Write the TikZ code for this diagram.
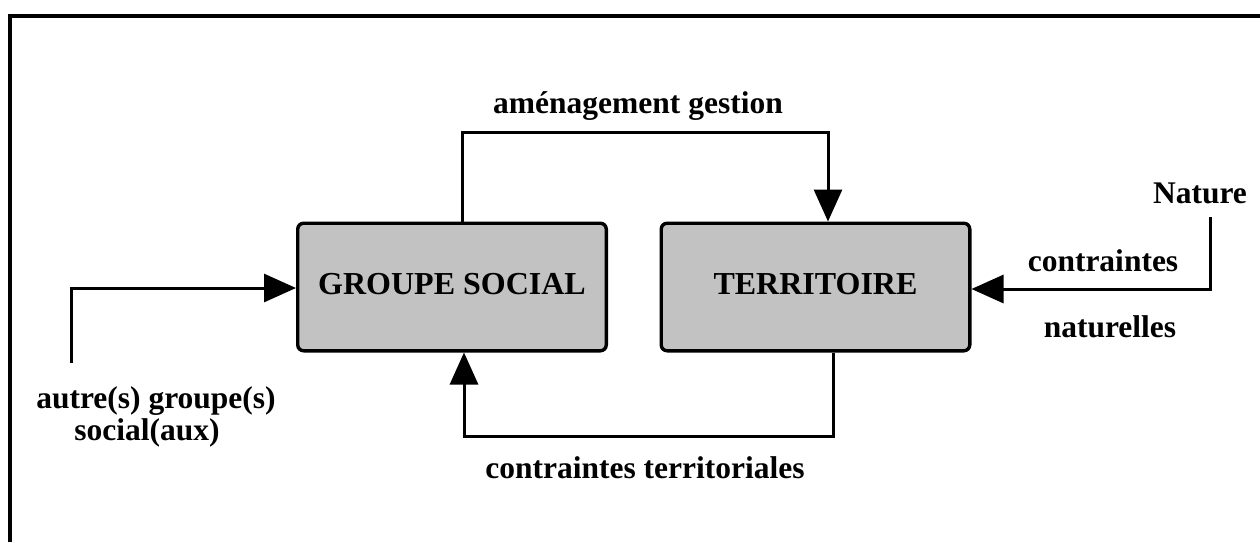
\documentclass[tikz,border=0pt]{standalone}
\usepackage{fontspec}
\setmainfont{Liberation Serif}
\usetikzlibrary{arrows.meta}
\begin{document}
\begin{tikzpicture}[x=0.5pt,y=-0.5pt,
  lbl/.style={font=\fontsize{15.75}{15}\selectfont\bfseries, inner sep=0pt, anchor=base},
  boxnode/.style={draw, line width=1.7pt, rounded corners=3pt, fill=black!24,
    minimum width=154.3pt, minimum height=63.8pt, inner sep=0pt,
    text height=10.5pt, text depth=3.5pt,
    font=\fontsize{16}{15}\selectfont\bfseries},
  conn/.style={line width=1.5pt},
  arr/.style={conn, -{Triangle[length=16pt,width=14pt]}},
  framestyle/.style={line width=2pt}]
\useasboundingbox (0,0) rectangle (1260,542);
% frame
\coordinate (fA) at (10,542);
\coordinate (fB) at (10,16);
\coordinate (fC) at (1260,16);
\draw[framestyle] (fA) -- (fB) -- (fC);
% boxes
\node[boxnode] (gs) at (452,287) {GROUPE SOCIAL};
\node[boxnode] (terr) at (815.5,287) {TERRITOIRE};
% connectors
\coordinate (agA) at (462,132);
\coordinate (agB) at (828,132);
\draw[arr] (gs.north -| agA) -- (agA) -- (agB) -- (terr.north -| agB);
\coordinate (ctA) at (833,436);
\coordinate (ctB) at (464,436);
\draw[arr] (terr.south -| ctA) -- (ctA) -- (ctB) -- (gs.south -| ctB);
\coordinate (agS) at (71,363);
\coordinate (agC) at (71,288);
\draw[arr] (agS) -- (agC) -- (gs.west |- agC);
\coordinate (natS) at (1210,217);
\coordinate (natC) at (1210,289);
\draw[arr] (natS) -- (natC) -- (terr.east |- natC);
% labels
\node[lbl] (ag) at (638,113) {aménagement gestion};
\node[lbl] (nat) at (1200,203) {Nature};
\node[lbl] (cn1) at (1103,271) {contraintes};
\node[lbl] (cn2) at (1110,337) {naturelles};
\node[lbl] (ct) at (645,478) {contraintes territoriales};
\node[lbl] (au1) at (156,408) {autre(s) groupe(s)};
\node[lbl] (au2) at (147,440) {social(aux)};
\end{tikzpicture}
\end{document}
